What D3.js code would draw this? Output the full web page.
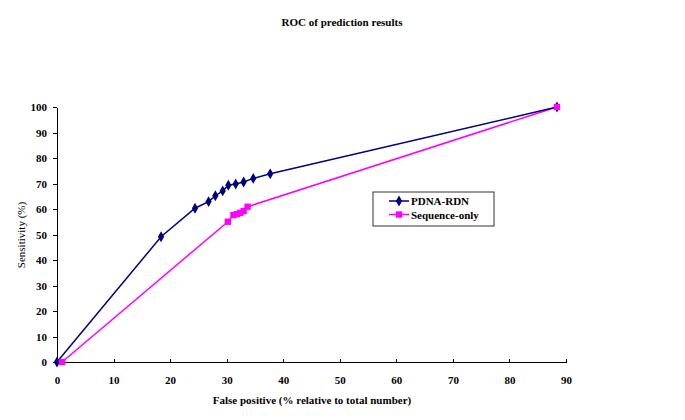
<!DOCTYPE html>
<meta charset="utf-8">
<title>ROC of prediction results</title>
<style>
    body { margin: 0; background: #fff; }
    svg text {
        font-family: "Times New Roman", "Liberation Serif", Times, serif !important;
        font-weight: bold;
        font-size: 11px;
        fill: #000;
    }
    svg text.ylabel { font-weight: normal; }
    .axis path, .axis line { stroke: #000; shape-rendering: crispEdges; }
</style>

<svg width="685" height="420"></svg>

<script src="https://d3js.org/d3.v7.min.js"></script>
<script>

    // values
    var pdnaX = [0, 18.4, 24.4, 26.8, 28.0, 29.3, 30.3, 31.6, 33.0, 34.7, 37.7, 88.4];
    var pdnaY = [0, 49.1, 60.3, 62.9, 65.2, 67.1, 69.3, 69.8, 70.6, 72.0, 73.8, 100];
    var seqX = [0.9, 30.2, 31.2, 31.8, 32.4, 33.0, 33.7, 88.4];
    var seqY = [0, 55.0, 57.6, 58.0, 58.5, 59.2, 60.9, 100];
    var xTicks = [0, 10, 20, 30, 40, 50, 60, 70, 80, 90];
    var yTicks = [0, 10, 20, 30, 40, 50, 60, 70, 80, 90, 100];
    var seriesNames = ["PDNA-RDN", "Sequence-only"];

    var svg = d3.select("svg");

    var x = d3.scaleLinear().domain([0, 90]).range([57, 566]);
    var y = d3.scaleLinear().domain([0, 100]).range([362, 107]);

    svg.append("text")
        .attr("x", 342).attr("y", 26)
        .attr("text-anchor", "middle")
        .text("ROC of prediction results");

    var xAxis = svg.append("g")
        .attr("class", "axis")
        .attr("transform", "translate(0," + y(0) + ")")
        .call(d3.axisBottom(x).tickValues(xTicks).tickSizeInner(-3).tickSizeOuter(-3).tickPadding(14));
    xAxis.select(".domain").attr("d", "M" + x(0) + ",0H" + x(90) + "V-3");

    var yAxis = svg.append("g")
        .attr("class", "axis")
        .attr("transform", "translate(" + x(0) + ",0)")
        .call(d3.axisLeft(y).tickValues(yTicks).tickSizeInner(4).tickSizeOuter(0).tickPadding(6));

    svg.selectAll(".axis").attr("font-family", null).attr("font-size", null);

    svg.append("text")
        .attr("x", 312).attr("y", 404)
        .attr("text-anchor", "middle")
        .text("False positive (% relative to total number)");

    svg.append("text")
        .attr("class", "ylabel")
        .attr("transform", "translate(25,235) rotate(-90)")
        .attr("text-anchor", "middle")
        .text("Sensitivity (%)");

    var line = d3.line()
        .x(function (d) { return x(d[0]); })
        .y(function (d) { return y(d[1]); });

    var pdna = d3.zip(pdnaX, pdnaY);
    var seq = d3.zip(seqX, seqY);

    var diamond = d3.symbol().type(d3.symbolDiamond).size(34);
    var square = d3.symbol().type(d3.symbolSquare).size(40);

    svg.append("path")
        .datum(seq)
        .attr("fill", "none")
        .attr("stroke", "#ff00ff")
        .attr("stroke-width", 1.5)
        .attr("d", line);

    svg.append("path")
        .datum(pdna)
        .attr("fill", "none")
        .attr("stroke", "#000080")
        .attr("stroke-width", 1.5)
        .attr("d", line);

    svg.append("g").selectAll("path")
        .data(pdna)
        .enter().append("path")
        .attr("fill", "#000080")
        .attr("transform", function (d) { return "translate(" + x(d[0]) + "," + y(d[1]) + ")"; })
        .attr("d", diamond);

    svg.append("g").selectAll("path")
        .data(seq)
        .enter().append("path")
        .attr("fill", "#ff00ff")
        .attr("transform", function (d) { return "translate(" + x(d[0]) + "," + y(d[1]) + ")"; })
        .attr("d", square);

    // legend
    var legend = svg.append("g");
    legend.append("rect")
        .attr("x", 373).attr("y", 192)
        .attr("width", 121).attr("height", 34)
        .attr("fill", "#fff")
        .attr("stroke", "#333")
        .attr("stroke-width", 1);

    var colors = ["#000080", "#ff00ff"];
    var shapes = [diamond, square];
    seriesNames.forEach(function (name, i) {
        var yy = 201 + i * 13.5;
        legend.append("line")
            .attr("x1", 389).attr("x2", 409)
            .attr("y1", yy).attr("y2", yy)
            .attr("stroke", colors[i]).attr("stroke-width", 1.5);
        legend.append("path")
            .attr("transform", "translate(399," + yy + ")")
            .attr("fill", colors[i])
            .attr("d", shapes[i]);
        legend.append("text")
            .attr("x", 411).attr("y", yy + 4)
            .text(name);
    });

</script>
